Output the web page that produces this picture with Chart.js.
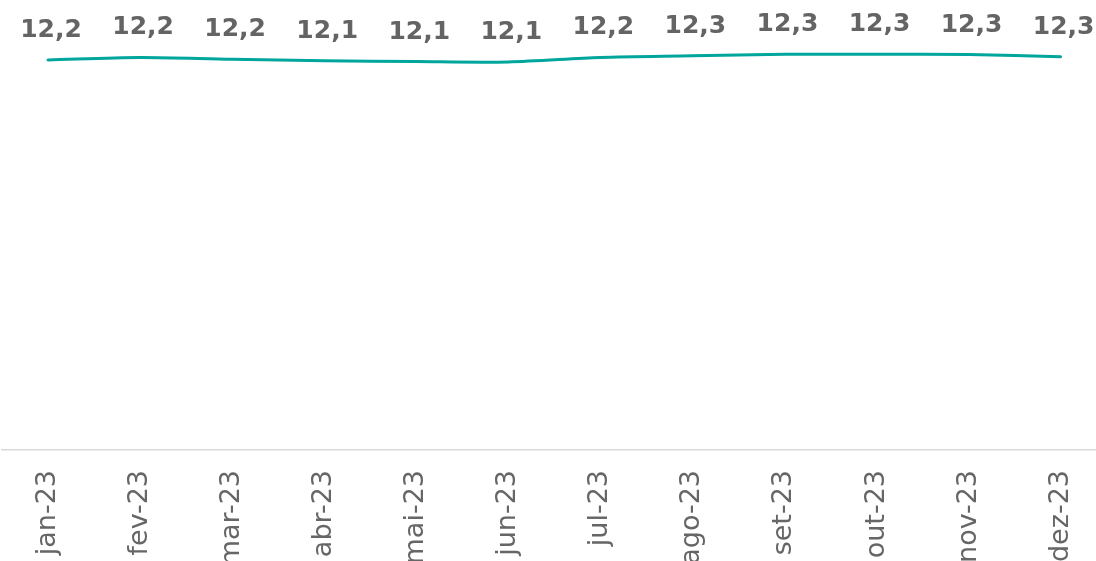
<!DOCTYPE html>
<html lang="pt">
<head>
<meta charset="utf-8">
<title>Série mensal 2023</title>
<script src="https://cdn.jsdelivr.net/npm/chart.js@4/dist/chart.umd.min.js"></script>
<style>
    html, body { margin: 0; padding: 0; background: #ffffff; overflow: hidden; }
    #lineChart { display: block; }
</style>
</head>
<body>
<canvas id="lineChart" width="1113" height="561"></canvas>
<script>
// Months shown on the x axis
const months = ['jan-23', 'fev-23', 'mar-23', 'abr-23', 'mai-23', 'jun-23',
                'jul-23', 'ago-23', 'set-23', 'out-23', 'nov-23', 'dez-23'];

// Monthly values (labels show one decimal)
const values = [12.16, 12.24, 12.18, 12.14, 12.11, 12.10,
                12.24, 12.29, 12.34, 12.34, 12.33, 12.26];

// Value axis range (hidden)
const yRange = [0, 14];

// Draws the bold value above each point, with a decimal comma
const valueLabels = {
    id: 'valueLabels',
    afterDatasetsDraw(chart) {
        const ctx = chart.ctx;
        const meta = chart.getDatasetMeta(0);
        ctx.save();
        ctx.font = 'bold 25px "DejaVu Sans", Verdana, sans-serif';
        ctx.fillStyle = '#646464';
        ctx.textAlign = 'center';
        ctx.textBaseline = 'alphabetic';
        meta.data.forEach((pt, i) => {
            const txt = values[i].toFixed(1).replace('.', ',');
            ctx.fillText(txt, pt.x + 3, pt.y - 23);
        });
        ctx.restore();
    }
};

new Chart(document.getElementById('lineChart').getContext('2d'), {
    type: 'line',
    data: {
        labels: months,
        datasets: [{
            data: values,
            borderColor: '#00A69C',
            borderWidth: 3,
            borderCapStyle: 'round',
            tension: 0.3,
            pointRadius: 0,
            fill: false
        }]
    },
    options: {
        responsive: false,
        animation: false,
        layout: { padding: { left: 2, top: 1, right: 0, bottom: 0 } },
        plugins: {
            legend: { display: false },
            tooltip: { enabled: false }
        },
        scales: {
            x: {
                offset: true,
                grid: { display: false, drawTicks: false },
                border: { display: true, color: '#d9d9d9', width: 1.5 },
                ticks: {
                    autoSkip: false,
                    minRotation: 90,
                    maxRotation: 90,
                    padding: 20,
                    color: '#666666',
                    font: { family: '"DejaVu Sans", Verdana, sans-serif', size: 27 }
                },
                afterFit(scale) { scale.height = 111; }
            },
            y: {
                display: false,
                min: yRange[0],
                max: yRange[1]
            }
        }
    },
    plugins: [valueLabels]
});
</script>
</body>
</html>
